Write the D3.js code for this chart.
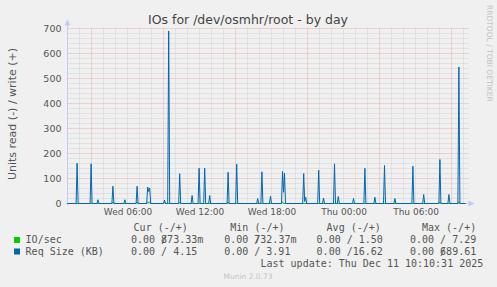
<!DOCTYPE html>
<html><head><meta charset="utf-8">
<script src="https://cdn.jsdelivr.net/npm/d3@7"></script>
<style>
html,body{margin:0;padding:0;background:#f0f0f0;}
svg{display:block;}
</style></head><body>
<svg id="c" width="497" height="287"></svg>
<script>
// ---------- data ----------
const chartTitle = "IOs for /dev/osmhr/root - by day";
const yTitle = "Units read (-) / write (+)";
const sideCredit = "RRDTOOL / TOBI OETIKER";
const footer = "Munin 2.0.73";
const lastUpdate = "Last update: Thu Dec 11 10:10:31 2025";
const yTicks = [0, 100, 200, 300, 400, 500, 600, 700];
const xTickLabels = ["Wed 06:00", "Wed 12:00", "Wed 18:00", "Thu 00:00", "Thu 06:00"];
const xTickTimes = ["2025-12-10T06:00", "2025-12-10T12:00", "2025-12-10T18:00", "2025-12-11T00:00", "2025-12-11T06:00"];
const xMajorGridTimes = ["2025-12-10T03:00", "2025-12-10T09:00", "2025-12-10T15:00", "2025-12-10T21:00", "2025-12-11T03:00", "2025-12-11T09:00"];
const timeStart = "2025-12-10T01:00";
const timeEnd = "2025-12-11T10:20";
const dataEnd = "2025-12-11T10:10";

// Req Size (KB), write side: spike start times and consecutive 5-minute values
const reqSpikeTimes = [
  "2025-12-10T01:48", "2025-12-10T02:58", "2025-12-10T03:32", "2025-12-10T04:47", "2025-12-10T05:47",
  "2025-12-10T06:48", "2025-12-10T07:41", "2025-12-10T09:05", "2025-12-10T09:26", "2025-12-10T10:21",
  "2025-12-10T11:23", "2025-12-10T11:58", "2025-12-10T12:26", "2025-12-10T12:51", "2025-12-10T14:23",
  "2025-12-10T15:06", "2025-12-10T16:51", "2025-12-10T17:12", "2025-12-10T17:55", "2025-12-10T18:55",
  "2025-12-10T20:41", "2025-12-10T21:56", "2025-12-10T22:20", "2025-12-10T23:15", "2025-12-10T23:34",
  "2025-12-11T00:50", "2025-12-11T01:47", "2025-12-11T02:37", "2025-12-11T03:25", "2025-12-11T04:17",
  "2025-12-11T05:47", "2025-12-11T06:41", "2025-12-11T08:02", "2025-12-11T08:47", "2025-12-11T09:37"
];
const reqSpikeValues = [
  [161], [159], [15], [69], [15],
  [69], [66, 48, 62], [14], [690], [119],
  [32], [141], [141], [32], [125],
  [157], [20], [127], [30], [128, 45, 122],
  [120, 8, 25], [133], [22], [159], [28],
  [20], [141], [25], [152], [20],
  [149], [36], [176], [36], [546]
];

// IO/sec, write side: small bumps near zero
const ioSpikeTimes = [
  "2025-12-10T04:47", "2025-12-10T06:48", "2025-12-10T07:41", "2025-12-10T09:05", "2025-12-10T10:21",
  "2025-12-10T14:23", "2025-12-10T18:55", "2025-12-11T08:02", "2025-12-11T09:37"
];
const ioSpikeValues = [
  [6], [6], [7, 3, 7], [5], [5],
  [6], [7], [6], [7]
];

const legendNames = ["IO/sec", "Req Size (KB)"];
const legendColors = ["#00cc00", "#0066b3"];
const colHeaders = ["Cur (-/+)", "Min (-/+)", "Avg (-/+)", "Max (-/+)"];
const curValues = [["0.00", "873.33", "m"], ["0.00", "4.15", ""]];
const minValues = [["0.00", "732.37", "m"], ["0.00", "3.91", ""]];
const avgValues = [["0.00", "1.50", ""], ["0.00", "16.62", ""]];
const maxValues = [["0.00", "7.29", ""], ["0.00", "689.61", ""]];

// ---------- drawing ----------
const parse = d3.timeParse("%Y-%m-%dT%H:%M");
const svg = d3.select("#c");
const bg = "#f0f0f0";
svg.append("rect").attr("width", 497).attr("height", 287).attr("fill", bg);

const x = d3.scaleTime().domain([parse(timeStart), parse(timeEnd)]).range([67.5, 467.5]);
const y = d3.scaleLinear().domain([0, 700]).range([203.5, 28.5]);

const sans = "DejaVu Sans, sans-serif";
const mono = "DejaVu Sans Mono, monospace";

// grid
const grid = svg.append("g");
const minorY = d3.range(0, 701, 20).filter(v => v % 100 !== 0);
grid.selectAll(".mh").data(minorY).join("line")
  .attr("x1", x.range()[0]).attr("x2", x.range()[1] + 1)
  .attr("y1", d => y(d)).attr("y2", d => y(d))
  .attr("stroke", "#d2d2d2").attr("stroke-dasharray", "1,1").attr("stroke-width", 1);
const minorX = d3.timeHour.range(parse(timeStart), parse(timeEnd))
  .filter(t => !xMajorGridTimes.some(s => +parse(s) === +t));
grid.selectAll(".mv").data(minorX).join("line")
  .attr("x1", d => x(d)).attr("x2", d => x(d))
  .attr("y1", y(700)).attr("y2", y(0))
  .attr("stroke", "#d2d2d2").attr("stroke-dasharray", "1,1").attr("stroke-width", 1);
grid.selectAll(".Mh").data(yTicks.filter(v => v > 0)).join("line")
  .attr("x1", x.range()[0]).attr("x2", x.range()[1] + 1)
  .attr("y1", d => y(d)).attr("y2", d => y(d))
  .attr("stroke", "#e6b0b0").attr("stroke-dasharray", "1,1").attr("stroke-width", 1);
grid.selectAll(".Mv").data(xMajorGridTimes.map(parse)).join("line")
  .attr("x1", d => x(d)).attr("x2", d => x(d))
  .attr("y1", y(700)).attr("y2", y(0))
  .attr("stroke", "#e6b0b0").attr("stroke-dasharray", "1,1").attr("stroke-width", 1);

// axes lines + arrows
const axisCol = "#c8c8f4";
const x0 = x.range()[0], y0 = y(0);
svg.append("line").attr("x1", x0).attr("x2", x0).attr("y1", y0 + 2).attr("y2", y(700) - 6)
  .attr("stroke", axisCol);
svg.append("line").attr("x1", x0 - 2).attr("x2", x.range()[1] + 2).attr("y1", y0).attr("y2", y0)
  .attr("stroke", axisCol);
svg.append("path").attr("fill", axisCol)
  .attr("d", `M${x0 - 3},${y(700) - 3} L${x0 + 3},${y(700) - 3} L${x0},${y(700) - 9} Z`);
svg.append("path").attr("fill", axisCol)
  .attr("d", `M${x.range()[1] + 1},${y0 - 3} L${x.range()[1] + 1},${y0 + 3} L${x.range()[1] + 7},${y0} Z`);

// tick labels via d3 axes
const yAxis = svg.append("g").attr("transform", `translate(${x0},0)`)
  .call(d3.axisLeft(y).tickValues(yTicks).tickSize(0).tickPadding(6).tickFormat(d3.format("d")));
yAxis.select(".domain").remove();
yAxis.selectAll("text").attr("font-family", sans).attr("font-size", 9.5).attr("fill", "#555");

const xAxis = svg.append("g").attr("transform", `translate(0,${y0})`)
  .call(d3.axisBottom(x).tickValues(xTickTimes.map(parse)).tickSize(0).tickPadding(5)
    .tickFormat((d, i) => xTickLabels[i]));
xAxis.select(".domain").remove();
xAxis.selectAll("text").attr("font-family", sans).attr("font-size", 9).attr("fill", "#555");

// series
function buildPoints(times, groups) {
  const pts = [[parse(timeStart), 0]];
  const step = 5 * 60 * 1000;
  times.forEach((s, i) => {
    const t0 = +parse(s);
    const vals = groups[i];
    pts.push([new Date(t0 - step), 0]);
    vals.forEach((v, k) => pts.push([new Date(t0 + k * step), v]));
    pts.push([new Date(t0 + vals.length * step), 0]);
  });
  pts.push([parse(dataEnd), 0]);
  pts.sort((a, b) => a[0] - b[0]);
  return pts;
}
const line = d3.line().x(d => x(d[0])).y(d => y(d[1]));
svg.append("path").datum(buildPoints(ioSpikeTimes, ioSpikeValues))
  .attr("d", line).attr("fill", "none").attr("stroke", legendColors[0]).attr("stroke-width", 1);
svg.append("path").datum(buildPoints(reqSpikeTimes, reqSpikeValues))
  .attr("d", line).attr("fill", "none").attr("stroke", legendColors[1]).attr("stroke-width", 1);

// title
svg.append("text").attr("x", 248).attr("y", 23.5).attr("text-anchor", "middle")
  .attr("font-family", sans).attr("font-size", 12.5).attr("fill", "#444").text(chartTitle);

// y title
svg.append("text").attr("transform", `translate(15.5,${(y(0) + y(700)) / 2 - 2}) rotate(-90)`)
  .attr("text-anchor", "middle").attr("font-family", sans).attr("font-size", 11)
  .attr("fill", "#555").text(yTitle);

// side credit
svg.append("text").attr("transform", `translate(486.5,5) rotate(90)`)
  .attr("font-family", sans).attr("font-size", 7.5).attr("fill", "#c4c4c4").text(sideCredit);

// legend
const cw = 6.02;
const lg = svg.append("g").attr("font-family", mono).attr("font-size", 10).attr("fill", "#555");
const headerX = [133.6, 230.3, 326.6, 422];
const colX = [131, 224.2, 316.6, 410];
const rowY = [243, 254.5];
colHeaders.forEach((h, i) => lg.append("text").attr("x", headerX[i]).attr("y", 231).text(h));
legendNames.forEach((n, r) => {
  lg.append("rect").attr("x", 14).attr("y", rowY[r] - 6).attr("width", 6).attr("height", 6)
    .attr("fill", legendColors[r]);
  lg.append("text").attr("x", 25.6).attr("y", rowY[r]).text(n);
});
[curValues, minValues, avgValues, maxValues].forEach((col, c) => {
  col.forEach((v, r) => {
    const bx = colX[c];
    // one text per cell: "0.00 /" then the second number right-aligned to column 11
    const t = lg.append("text").attr("x", bx).attr("y", rowY[r]);
    t.append("tspan").text(v[0] + " /");
    t.append("tspan").attr("x", bx + (11 - v[1].length) * cw).text(v[1] + v[2]);
  });
});
lg.append("text").attr("x", 260.5).attr("y", 267).text(lastUpdate);

svg.append("text").attr("x", 248).attr("y", 279).attr("text-anchor", "middle")
  .attr("font-family", sans).attr("font-size", 7.5).attr("fill", "#c4c4c4").text(footer);
</script>
</body></html>
